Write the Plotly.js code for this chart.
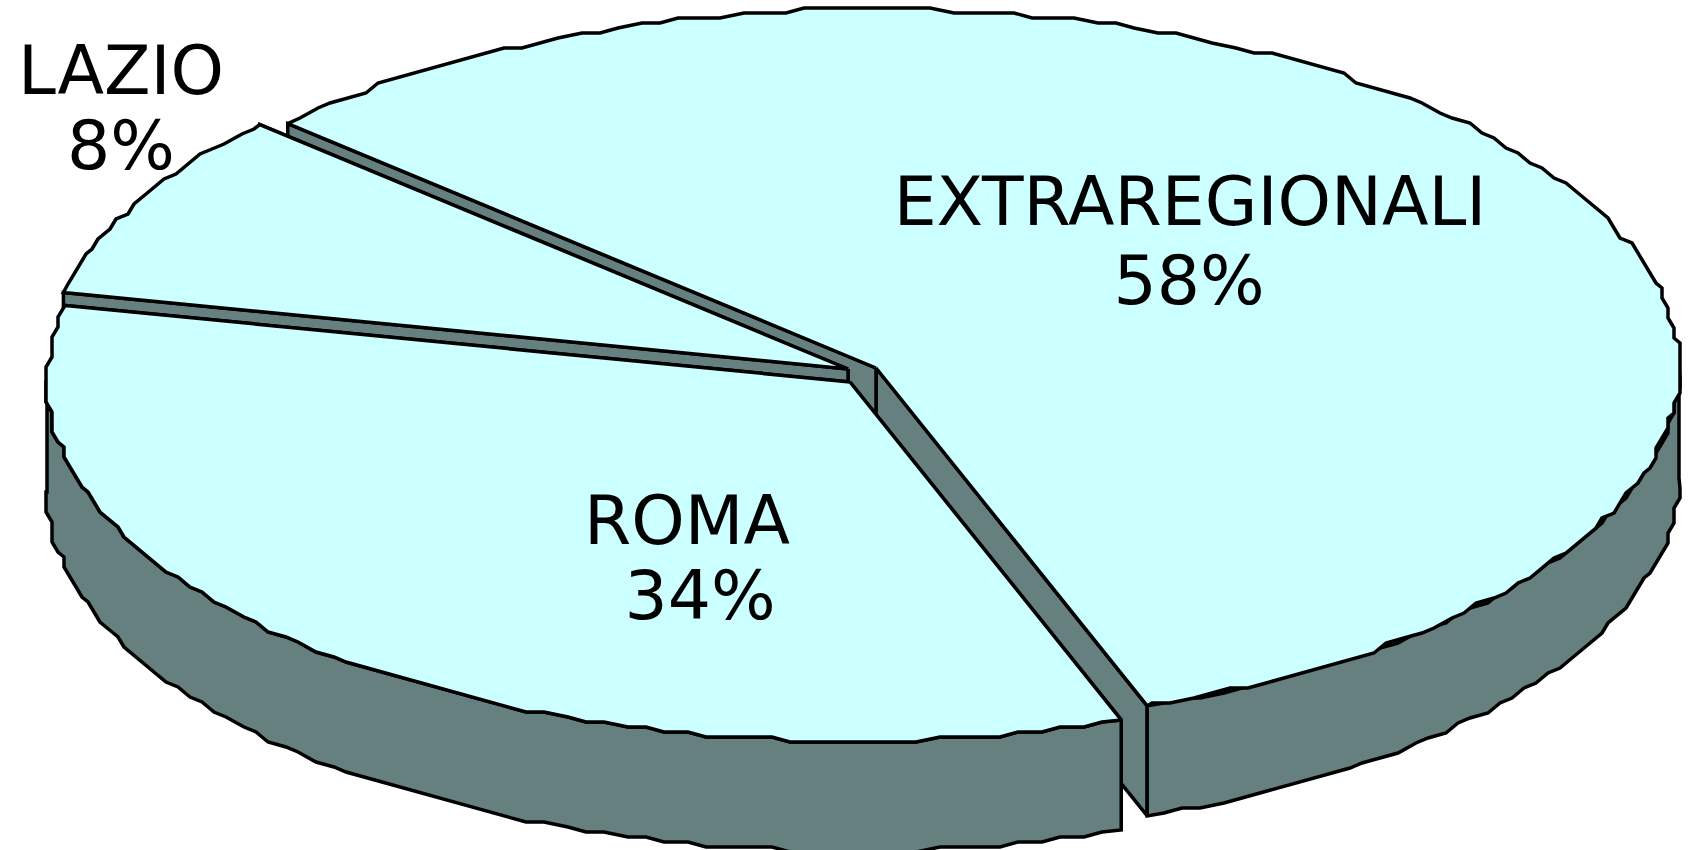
<!DOCTYPE html>
<html>
<head>
<meta charset="utf-8">
<script src="https://cdn.plot.ly/plotly-3.0.1.min.js"></script>
<style>html,body{margin:0;padding:0;background:#fff;overflow:hidden}#chart{width:1688px;height:850px}</style>
</head>
<body>
<div id="chart"></div>
<script>
// Data, clockwise round the pie
const categories = ["EXTRAREGIONALI", "ROMA", "LAZIO"];
const shares = [57.6, 33.9, 8.5];
const pctLabels = ["58%", "34%", "8%"];

// Pie geometry and style (pixels of the 1688x850 canvas)
const sliceCx = [876, 850, 848];
const sliceCy = [368, 382, 369];
const drawOrder = [0, 2, 1];
const rx = 803, ry = 359, depth = 110;
const startAngle = 137.1;
const gridX = 6, gridY = 5, stepDeg = 1.5;
const topColor = "#CCFFFF", wallColor = "#668080", inkColor = "#000000";
const lineWidth = 3.5;
const nameX = [1190, 687, 121], nameY = [208, 527, 77];
const pctX = [1189, 700, 121], pctY = [287, 602, 152];
const labelFont = "'Comic Sans MS','DejaVu Sans',sans-serif", labelSize = 68;

const rad = d => d * Math.PI / 180;
function rimPoint(i, deg, snap) {
  let dx = rx * Math.cos(rad(deg)), dy = -ry * Math.sin(rad(deg));
  if (snap) { dx = Math.round(dx / gridX) * gridX; dy = Math.round(dy / gridY) * gridY; }
  return [sliceCx[i] + dx, sliceCy[i] + dy];
}
function arc(i, a, b) { // from angle a down to angle b
  const pts = [rimPoint(i, a, false)];
  for (let t = a - stepDeg; t > b; t -= stepDeg) {
    const p = rimPoint(i, t, true), q = pts[pts.length - 1];
    if (p[0] !== q[0] || p[1] !== q[1]) pts.push(p);
  }
  pts.push(rimPoint(i, b, false));
  return pts;
}
function poly(pts, fill) {
  const c = pts.concat([pts[0]]);
  return {type: "scatter", mode: "lines", x: c.map(p => p[0]), y: c.map(p => p[1]),
    fill: "toself", fillcolor: fill, line: {color: inkColor, width: lineWidth, shape: "linear"},
    hoverinfo: "skip", showlegend: false};
}
const down = p => [p[0], p[1] + depth];

// slice angles come from the shares
const from = [], to = [];
let angle = startAngle;
shares.forEach((s, i) => { from[i] = angle; angle -= s * 3.6; to[i] = angle; });

const traces = [];
drawOrder.forEach(i => {
  const a = from[i], b = to[i];
  const apex = [sliceCx[i], sliceCy[i]];
  const ra = rimPoint(i, a, false), rb = rimPoint(i, b, false);
  traces.push(poly([apex, rb, down(rb), down(apex)], wallColor));
  traces.push(poly([apex, ra, down(ra), down(apex)], wallColor));
  // outer wall: only the front half of the rim (angles 0 to -180) can be seen
  const hi = Math.min(a, 0), lo = Math.max(b, -180);
  if (hi > lo) {
    const w = arc(i, hi, lo);
    traces.push(poly(w.concat(w.slice().reverse().map(down)), wallColor));
  }
  traces.push(poly([apex].concat(arc(i, a, b)), topColor));
});

categories.forEach((name, i) => {
  traces.push({type: "scatter", mode: "text", x: [nameX[i], pctX[i]], y: [nameY[i], pctY[i]],
    text: [name, pctLabels[i]], textposition: "middle center",
    textfont: {family: labelFont, size: labelSize, color: inkColor},
    hoverinfo: "skip", showlegend: false, cliponaxis: false});
});

Plotly.newPlot("chart", traces, {
  width: 1688, height: 850, margin: {l: 0, r: 0, t: 0, b: 0},
  paper_bgcolor: "#ffffff", plot_bgcolor: "#ffffff", showlegend: false,
  xaxis: {range: [0, 1688], visible: false, fixedrange: true},
  yaxis: {range: [850, 0], visible: false, fixedrange: true}
}, {staticPlot: true, displayModeBar: false});
</script>
</body>
</html>
